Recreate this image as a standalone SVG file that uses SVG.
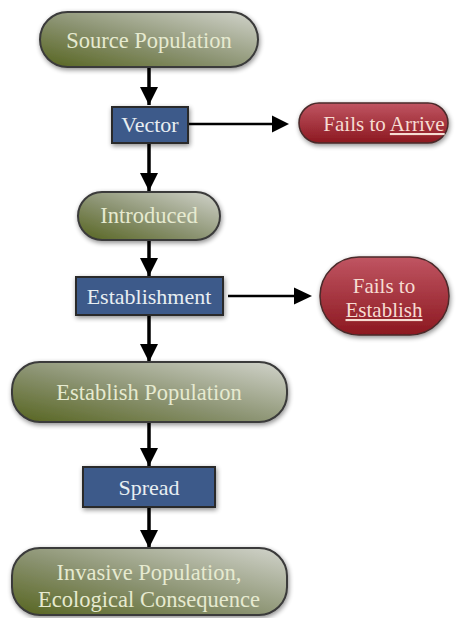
<svg xmlns="http://www.w3.org/2000/svg" width="466" height="618" viewBox="0 0 466 618">
<defs>
<linearGradient id="gGreen" x1="0" y1="1" x2="1" y2="0">
<stop offset="0" stop-color="#56641f"/>
<stop offset="0.45" stop-color="#8a9270"/>
<stop offset="1" stop-color="#d2d4cc"/>
</linearGradient>
<linearGradient id="gRed" x1="0" y1="0" x2="0" y2="1">
<stop offset="0" stop-color="#c05562"/>
<stop offset="1" stop-color="#8c1820"/>
</linearGradient>
<filter id="sh" x="-20%" y="-30%" width="140%" height="160%">
<feGaussianBlur in="SourceAlpha" stdDeviation="2.5"/>
<feOffset dx="1" dy="2" result="b"/>
<feComponentTransfer><feFuncA type="linear" slope="0.45"/></feComponentTransfer>
<feMerge><feMergeNode/><feMergeNode in="SourceGraphic"/></feMerge>
</filter>
<marker id="ah" viewBox="0 0 10 10" refX="10" refY="5" markerWidth="5.2" markerHeight="5.2" markerUnits="strokeWidth" orient="auto">
<path d="M0,0 L10,5 L0,10 z" fill="#000"/>
</marker>
</defs>
<style>
.g{fill:url(#gGreen);stroke:#3a3a3a;stroke-width:2;filter:url(#sh)}
.b{fill:#3d5a8a;stroke:#2a2a2a;stroke-width:2;filter:url(#sh)}
.r{fill:url(#gRed);stroke:#4a2a2a;stroke-width:1.5;filter:url(#sh)}
.tg{font-family:"Liberation Serif","DejaVu Serif",serif;font-size:22.5px;fill:#e6ead0;text-anchor:middle}
.tb{font-family:"Liberation Serif","DejaVu Serif",serif;font-size:22px;fill:#e8eef2;text-anchor:middle}
.tr{font-family:"Liberation Serif","DejaVu Serif",serif;font-size:21px;fill:#f6dcd2;text-anchor:middle}
.c{stroke:#000;stroke-width:3.5;fill:none;marker-end:url(#ah)}
.ch{stroke:#000;stroke-width:2.5;fill:none}
</style>
<g id="connectors">
<line class="c" x1="149" y1="67" x2="149" y2="105"/>
<line class="c" x1="149" y1="143" x2="149" y2="191"/>
<line class="c" x1="149" y1="240" x2="149" y2="276"/>
<line class="c" x1="149" y1="315" x2="149" y2="362"/>
<line class="c" x1="149" y1="422" x2="149" y2="466"/>
<line class="c" x1="149" y1="507" x2="149" y2="548"/>
<line class="ch" x1="188" y1="124" x2="274" y2="124"/>
<path d="M272,115.5 L289,124 L272,132.5 z" fill="#000"/>
<line class="ch" x1="228" y1="296" x2="296" y2="296"/>
<path d="M294,287.5 L312,296 L294,304.5 z" fill="#000"/>
</g>
<g id="source">
<rect class="g" x="40" y="12" width="218" height="55" rx="27.5"/>
<text class="tg" x="149" y="48">Source Population</text>
</g>
<g id="vector">
<rect class="b" x="112" y="107" width="76" height="36"/>
<text class="tb" x="150" y="132">Vector</text>
</g>
<g id="fails-arrive">
<rect class="r" x="299" y="103" width="149" height="40" rx="20"/>
<text class="tr" x="384" y="131">Fails to <tspan text-decoration="underline">Arrive</tspan></text>
</g>
<g id="introduced">
<rect class="g" x="78" y="192" width="142" height="48" rx="24"/>
<text class="tg" x="149" y="223">Introduced</text>
</g>
<g id="establishment">
<rect class="b" x="76" y="277" width="147" height="38"/>
<text class="tb" x="149" y="304">Establishment</text>
</g>
<g id="fails-establish">
<rect class="r" x="320" y="257" width="129" height="78" rx="39"/>
<text class="tr" x="384" y="293">Fails to</text>
<text class="tr" x="384" y="317" text-decoration="underline">Establish</text>
</g>
<g id="establish-pop">
<rect class="g" x="12" y="362" width="275" height="60" rx="28"/>
<text class="tg" x="149" y="400">Establish Population</text>
</g>
<g id="spread">
<rect class="b" x="83" y="467" width="132" height="40"/>
<text class="tb" x="149" y="495">Spread</text>
</g>
<g id="invasive">
<rect class="g" x="12" y="548" width="275" height="67" rx="28"/>
<text class="tg" x="149" y="580">Invasive Population,</text>
<text class="tg" x="149" y="607">Ecological Consequence</text>
</g>
</svg>
